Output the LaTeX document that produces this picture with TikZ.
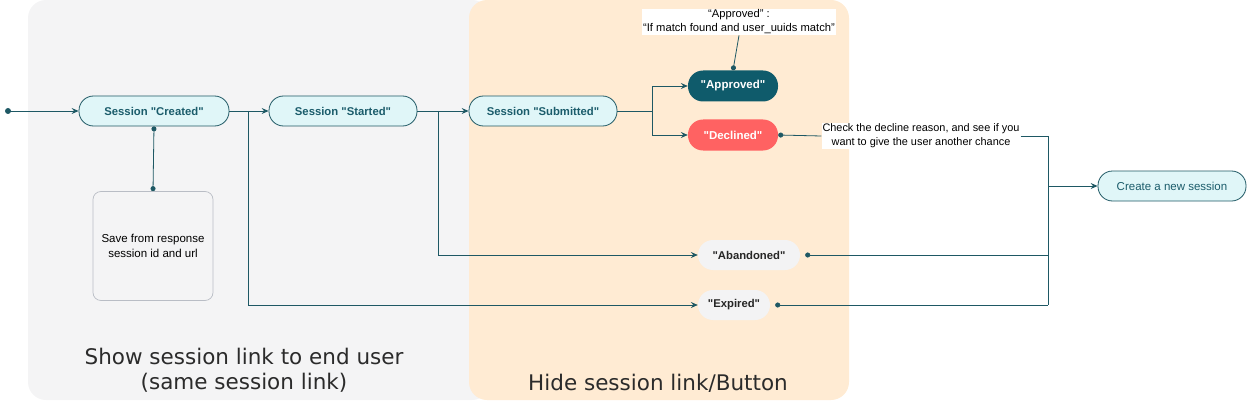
\documentclass[tikz,border=0pt]{standalone}
\usepackage{fontspec}
\setmainfont{Liberation Sans}[Ligatures=TeXOff]
\newfontfamily\capfont{DejaVu Sans}
\usetikzlibrary{arrows.meta}
\definecolor{panelgray}{HTML}{F4F4F5}
\definecolor{panelorange}{HTML}{FFEBD3}
\definecolor{linec}{HTML}{1E5864}
\definecolor{cyanfill}{HTML}{E0F6F8}
\definecolor{tealtext}{HTML}{1B5C6B}
\definecolor{tealdark}{HTML}{0F5B6B}
\definecolor{redfill}{HTML}{FF6262}
\definecolor{pillgray}{HTML}{F3F3F4}
\definecolor{boxborder}{HTML}{B9BDC5}
\definecolor{captext}{HTML}{2B2B2B}
\begin{document}
\begin{tikzpicture}[x=1pt,y=-1pt,
  state/.style={draw=linec, fill=cyanfill, rounded corners=14.5pt, minimum height=30pt, inner sep=0pt,
    text=tealtext, font=\fontsize{11.3}{13}\selectfont\bfseries, line width=0.8pt},
  resultpill/.style={rounded corners=15pt, minimum height=31pt, minimum width=90pt, inner sep=0pt,
    font=\fontsize{11.5}{13}\selectfont\bfseries},
  graypill/.style={fill=pillgray, rounded corners=15pt, minimum height=30pt, inner sep=0pt,
    font=\fontsize{11.3}{13}\selectfont\bfseries, text=black!85},
  line/.style={draw=linec, line width=0.8pt},
  conn/.style={line, -{Stealth[length=7pt,width=6pt,inset=2.5pt]}},
  dotstart/.style={{Circle[length=5pt]}-},
  smalltext/.style={fill=white, inner sep=1pt, align=center},
  caption/.style={align=center, font=\capfont\fontsize{21.5}{25}\selectfont, text=captext}
]
\useasboundingbox (0,0) rectangle (1249,401);
% panels
\fill[panelgray, rounded corners=18pt] (28,0) rectangle (490,400);
\fill[panelorange, rounded corners=18pt] (469,0) rectangle (849,400);

% nodes
\fill[linec] (8,111) circle (3);
\coordinate (start) at (8,111);
\node[state, minimum width=150pt] (created) at (154,111) {Session "Created"};
\node[state, minimum width=148pt] (started) at (343,111) {Session "Started"};
\node[state, minimum width=148pt] (submitted) at (543,111) {Session "Submitted"};
\node[resultpill, fill=tealdark, text=white] (approved) at (733,86) {"Approved"};
\node[resultpill, fill=redfill, text=white] (declined) at (733,135) {"Declined"};
\node[smalltext, font=\fontsize{11.2}{14}\selectfont] (alabel) at (739,22) {“Approved” :\\“If match found and user\_uuids match”};
\node[smalltext, font=\fontsize{10.9}{14}\selectfont] (dtext) at (921,136) {Check the decline reason, and see if you\\want to give the user another chance};
\node[draw=boxborder, fill=panelgray, rounded corners=8pt, minimum width=120pt, minimum height=109pt,
  align=center, font=\fontsize{11.5}{14.5}\selectfont, line width=0.7pt] (save) at (153,246)
  {Save from response\\session id and url};
\node[graypill, minimum width=102pt] (aband) at (749,255) {"Abandoned"};
\node[graypill, minimum width=72pt] (expired) at (734,305) {"Expired"};
\node[draw=linec, fill=cyanfill, rounded corners=14.5pt, minimum height=30pt, minimum width=148pt,
  inner sep=0pt, text=tealtext, font=\fontsize{11.5}{13}\selectfont, line width=0.8pt] (create) at (1172,186) {Create a new session};

% captions
\node[caption] (cap1) at (244,370) {Show session link to end user\\(same session link)};
\node[caption] (cap2) at (658,383) {Hide session link/Button};

% connectors
\coordinate (b1) at (248,111);
\coordinate (b2) at (438,111);
\coordinate (b3) at (652,111);
\coordinate (j1) at (1048,186);
\coordinate (j2) at (1048,305);
\coordinate (j3) at (1048,255);

\draw[conn] (start) -- (created.west);
\draw[conn] (created.east) -- (started.west);
\draw[conn] (started.east) -- (submitted.west);
\draw[conn] (b1) |- (expired.west);
\draw[conn] (b2) |- (aband.west);
\draw[line] (submitted.east) -- (b3);
\draw[conn] (b3) |- (approved.west);
\draw[conn] (b3) |- (declined.west);
\draw[line, {Circle[length=5pt]}-{Circle[length=5pt]}] (created.south) -- (save.north);
\draw[line, -{Circle[length=5pt]}] (alabel.south) -- (approved.north);
\draw[line, dotstart] (declined.east) -- (dtext.west);
\draw[line] (dtext.east) -| (j2);
\draw[line, dotstart] ([xshift=5pt]aband.east) -- (j3);
\draw[line, dotstart] ([xshift=5pt]expired.east) -- (j2);
\draw[conn] (j1) -- (create.west);
\end{tikzpicture}
\end{document}
